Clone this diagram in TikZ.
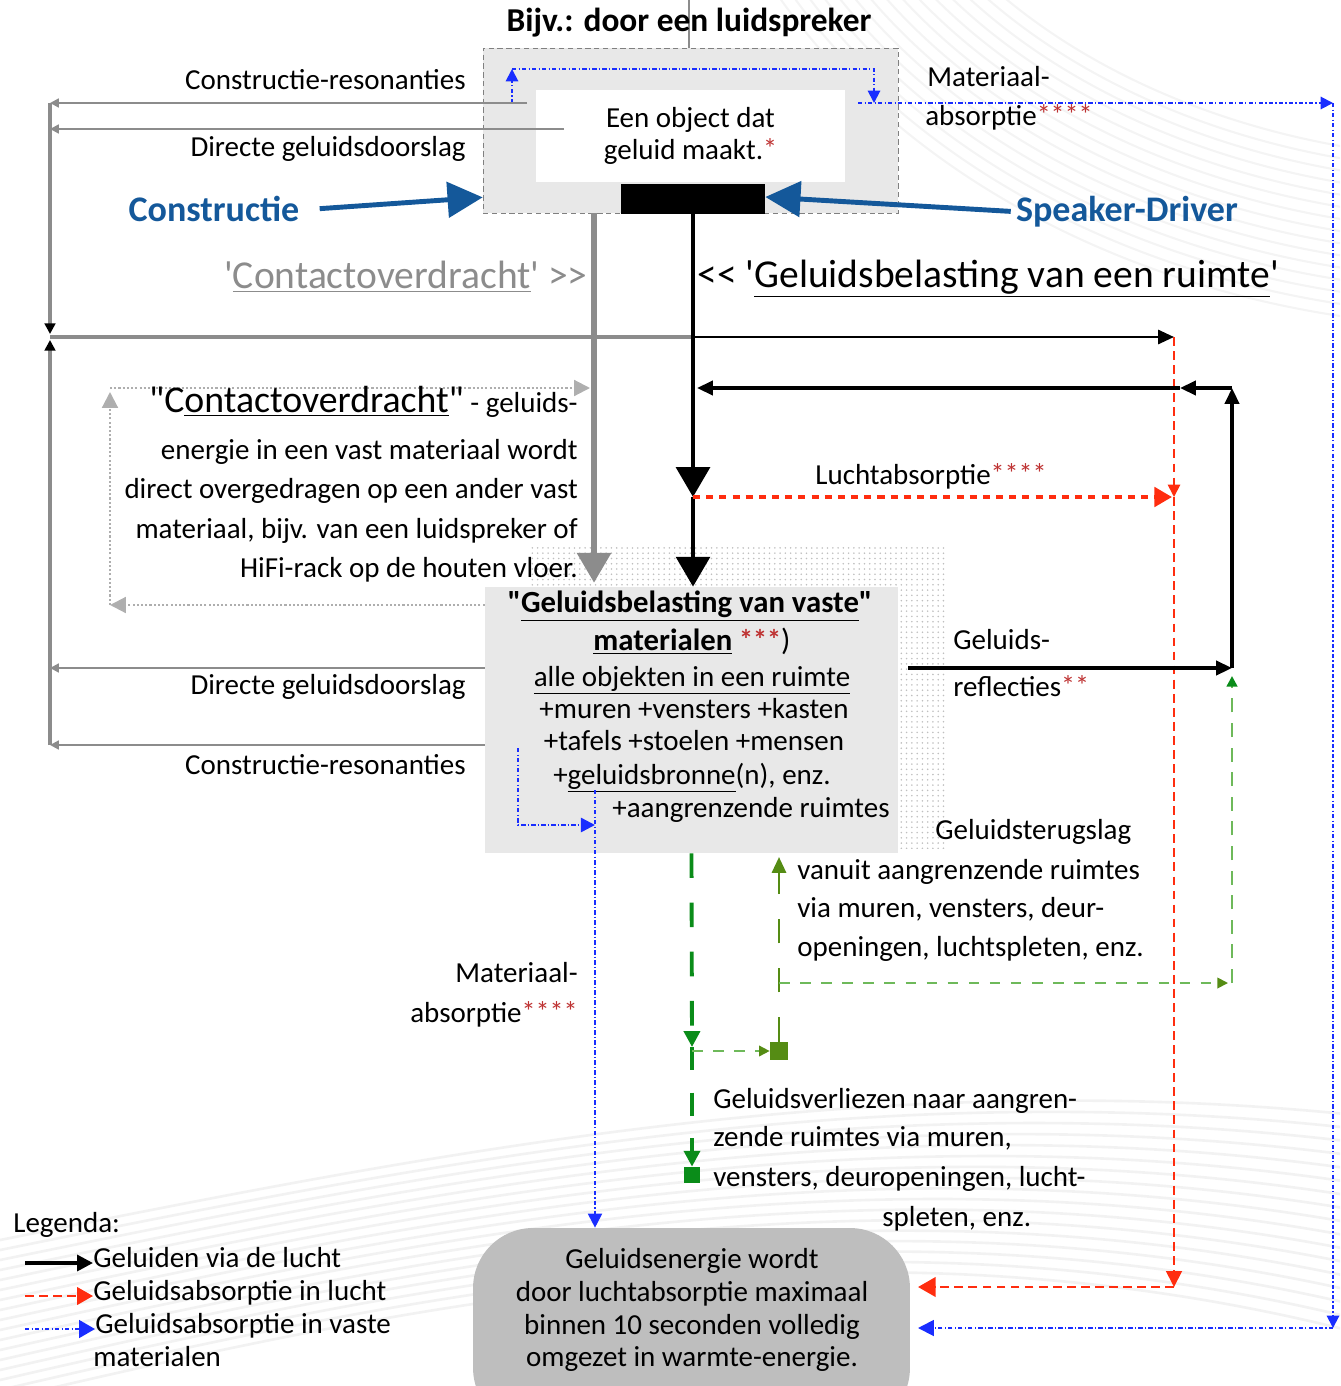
\documentclass[tikz,border=0pt]{standalone}
\usepackage{fontspec}
\setmainfont{Carlito}
\usepackage{xcolor}
\usetikzlibrary{positioning,calc,patterns,arrows.meta}

\definecolor{drvblue}{RGB}{20,88,154}
\definecolor{boxgray}{RGB}{232,232,232}
\definecolor{endgray}{RGB}{190,190,190}
\definecolor{linegray}{RGB}{140,140,140}
\definecolor{absred}{RGB}{255,45,15}
\definecolor{absblue}{RGB}{25,45,255}
\definecolor{lossgreen}{RGB}{10,140,25}
\definecolor{backgreen}{RGB}{85,140,20}
\definecolor{palegreen}{RGB}{110,185,90}
\definecolor{starred}{RGB}{190,50,50}

\newcommand{\stars}[1]{\textcolor{starred}{\raisebox{0.02em}{\fontsize{16}{16}\selectfont #1}}}
\newcommand{\sq}{\textquotesingle}
\newcommand{\dq}{\textquotedbl}

\tikzset{
  txt/.style={font=\fontsize{16.5}{20}\selectfont, inner sep=0pt, anchor=mid},
  bigtxt/.style={font=\fontsize{22.5}{26}\selectfont, inner sep=0pt, anchor=mid},
  bluetxt/.style={font=\fontsize{20.5}{24}\selectfont\bfseries, text=drvblue, inner sep=0pt, anchor=mid},
  airline/.style={black, line width=2pt},
  bodyline/.style={linegray, line width=1.3pt},
  redline/.style={absred, line width=1pt, dash pattern=on 5pt off 3pt},
  blueline/.style={absblue, line width=1.1pt, dash pattern=on 2.5pt off 1.2pt on 0.8pt off 1.2pt},
  cdline/.style={linegray!70, line width=1.2pt, dash pattern=on 1.2pt off 1.2pt},
  bigtip/.style={-{Triangle[length=17pt,width=19pt]}},
  smalltip/.style={-{Triangle[length=5pt,width=5pt]}},
  midtip/.style={-{Triangle[length=9pt,width=8pt]}},
}

\begin{document}
\begin{tikzpicture}[x=0.02cm,y=-0.02cm]
\path[use as bounding box] (0,0) rectangle (1340,1386);
\clip (0,0) rectangle (1340,1386);

% faint background waves
\foreach \k in {0,...,14}
  \draw[gray!9, line width=1.2pt] (1500,-300) ellipse [x radius=650+\k*12, y radius=460+\k*12];
\foreach \k in {0,...,16}
  \draw[gray!10, line width=1.5pt] (0,1240+\k*10) .. controls (450,1150+\k*9) and (900,1060+\k*9) .. (1400,1120+\k*14);

% speaker block
\node[draw=gray, densely dashed, line width=0.4pt, fill=boxgray, minimum width=8.3cm, minimum height=3.3cm, inner sep=0pt] (spk) at (690.5,130.5) {};
\node[fill=white, minimum width=6.18cm, minimum height=1.84cm, align=center, font=\fontsize{16.5}{18}\selectfont] (obj) at (690.5,136) {Een object dat\\geluid maakt.\stars{*}};
\node[fill=black, minimum width=2.88cm, minimum height=0.6cm, inner sep=0pt] (drv) at (693,199) {};
\coordinate (ttop) at (689,0);
\draw[linegray, line width=1.2pt] (ttop) -- (ttop |- spk.north);
\node[txt, font=\fontsize{19}{22}\selectfont\bfseries] (title) at (689,27) {Bijv.: door een luidspreker};

\node[bluetxt] (cons) at (214,217) {Constructie};
\node[bluetxt] (drvlbl) at (1127,217) {Speaker-Driver};
\draw[drvblue, line width=2.8pt, -{Triangle[length=20pt,width=20pt]}] ([xshift=0.4cm]cons.east) -- ([yshift=0.32cm]spk.south west);
\draw[drvblue, line width=2.8pt, -{Triangle[length=20pt,width=20pt]}] ([xshift=-0.1cm]drvlbl.west) -- ([yshift=0.04cm]drv.east);

% material absorption loop (blue)
\coordinate (bA) at (512,103);
\coordinate (bB) at (512,69);
\coordinate (bC) at (874,69);
\coordinate (bD) at (874,103);
\coordinate (bE) at (858,103);
\coordinate (bF) at (1333,103);
\coordinate (bG) at (1333,1328);
\coordinate (bH) at (918,1328);
\draw[blueline, -{Triangle[length=7pt,width=7pt]}] (bA) -- (bB);
\draw[blueline, -{Triangle[length=7pt,width=7pt]}] (bB) -- (bC) -- (bD);
\draw[blueline, -{Triangle[length=7pt,width=7pt]}] (bE) -- (bF);
\draw[blueline, -{Triangle[length=7pt,width=7pt]}] (bF) -- (bG);
\draw[blueline, -{Triangle[length=9pt,width=9pt]}] (bG) -- (bH);
\node[txt, anchor=mid west] (mat1a) at (927,82) {Materiaal-};
\node[txt, anchor=mid west] (mat1b) at (925,121) {absorptie\stars{****}};

% body-borne lines to the left rail
\coordinate (cr1) at (527,103);
\coordinate (dd1) at (564,129);
\coordinate (dd2) at (522,668);
\coordinate (cr2) at (520,745);
\coordinate (rTop) at (50,103);
\coordinate (rDir) at (50,129);
\coordinate (rMid) at (50,337);
\coordinate (rLow1) at (50,668);
\coordinate (rLow2) at (50,745);
\draw[bodyline, smalltip] (cr1) -- (rTop);
\draw[bodyline, smalltip] (dd1) -- (rDir);
\draw[bodyline, smalltip] (dd2) -- (rLow1);
\draw[bodyline, smalltip] (cr2) -- (rLow2);
\draw[bodyline, line width=1.8pt, -{Triangle[length=6pt,width=6pt,color=black]}] (rTop) -- ([yshift=0.06cm]rMid);
\draw[bodyline, line width=1.8pt, -{Triangle[length=6pt,width=6pt,color=black]}] (rLow2) -- ([yshift=-0.06cm]rMid);
\node[txt, anchor=mid east] (lcr1) at (466,85) {Constructie-resonanties};
\node[txt, anchor=mid east] (ldd1) at (466,152) {Directe geluidsdoorslag};
\node[txt, anchor=mid east] (ldd2) at (466,690) {Directe geluidsdoorslag};
\node[txt, anchor=mid east] (lcr2) at (466,770) {Constructie-resonanties};

% airborne line at the rail
\coordinate (jx) at (693,337);
\coordinate (redtop) at (1174,337);
\draw[bodyline, line width=1.8pt] (rMid) -- (jx);
\draw[airline, line width=1.4pt, midtip] (jx) -- (redtop);

% material box
\fill[pattern=dots, pattern color=gray!50] (530,545) rectangle (945,848);
\node[fill=boxgray, minimum width=8.26cm, minimum height=5.32cm, inner sep=0pt] (mat) at (691.5,720) {};
\node[txt, font=\fontsize{17.5}{20}\selectfont\bfseries] (m1) at (690,608) {\dq\underline{Geluidsbelasting van vaste}\dq};
\node[txt, font=\fontsize{17.5}{20}\selectfont\bfseries] (m2) at (692,646) {\underline{materialen} \stars{***}\mdseries)};
\node[txt] (m3) at (692,682) {\underline{alle objekten in een ruimte}};
\node[txt] (m4) at (694,714) {+muren +vensters +kasten};
\node[txt] (m5) at (694,746) {+tafels +stoelen +mensen};
\node[txt] (m6) at (692,780) {+\underline{geluidsbronne}(n), enz.};
\node[txt] (m7) at (751,813) {+aangrenzende ruimtes};

% contact transfer and airborne main arrows
\draw[linegray, line width=3pt, bigtip] ([xshift=-1.93cm]spk.south) -- ([xshift=-1.95cm,yshift=0.08cm]mat.north);
\coordinate (lx) at (693,497);
\draw[black, line width=2.8pt, bigtip] (drv.south) -- (lx);
\draw[black, line width=2.8pt, bigtip] (lx) -- (lx |- mat.north);
\node[bigtxt, text=linegray, anchor=mid east] (ctlbl) at (588,284) {\sq\underline{Contactoverdracht}\sq{} >{}>};
\node[bigtxt, anchor=mid west] (gblbl) at (697,283) {<{}< \sq\underline{Geluidsbelasting van een ruimte}\sq};

% contact transfer description
\coordinate (cdB) at (110,605);
\coordinate (cdC) at (110,388);
\coordinate (cdD) at (590,388);
\draw[cdline, -{Triangle[length=9pt,width=9pt,color=linegray!70]}] (mat.west |- cdB) -- (cdB);
\draw[cdline, -{Triangle[length=9pt,width=9pt,color=linegray!70]}] (cdB) -- ([yshift=-0.08cm]cdC);
\draw[cdline, -{Triangle[length=9pt,width=9pt,color=linegray!70]}] (cdC) -- (cdD);
\node[txt, anchor=mid east] (cd1) at (578,408) {{\fontsize{21.5}{26}\selectfont\dq C\underline{ontactoverdracht}\dq} - geluids-};
\node[txt, anchor=mid east] (cd2) at (578,455) {energie in een vast materiaal wordt};
\node[txt, anchor=mid east] (cd3) at (578,494) {direct overgedragen op een ander vast};
\node[txt, anchor=mid east] (cd4) at (578,534) {materiaal, bijv. van een luidspreker of};
\node[txt, anchor=mid east] (cd5) at (578,573) {HiFi-rack op de houten vloer.};

% air absorption (red)
\coordinate (redmid) at (1174,497);
\coordinate (redbot) at (1174,1287);
\coordinate (redend) at (918,1287);
\draw[redline, -{Triangle[length=7pt,width=7pt]}] (redtop) -- (redmid);
\draw[redline, -{Triangle[length=9pt,width=9pt]}] (redmid) -- (redbot);
\draw[redline, line width=1.6pt, -{Triangle[length=10pt,width=11pt]}] (redbot) -- (redend);
\draw[absred, line width=2.2pt, dash pattern=on 4pt off 3.5pt, -{Triangle[length=10pt,width=11pt]}] (lx) -- ([xshift=-0.04cm]redmid);
\node[txt, anchor=mid west] (lucht) at (815,480) {Luchtabsorptie\stars{****}};

% reflections
\coordinate (rfS) at (908,668);
\coordinate (rfR) at (1232,668);
\coordinate (rfT) at (1232,388);
\coordinate (rfM) at (1180,388);
\coordinate (rfL) at (697,388);
\draw[airline, midtip] (rfS) -- (rfR);
\draw[airline, midtip] (rfR) -- (rfT);
\draw[airline, midtip] (rfT) -- (rfM);
\draw[airline, midtip] (rfM) -- (rfL);
\node[txt, anchor=mid west] (refl1) at (953,645) {Geluids-};
\node[txt, anchor=mid west] (refl2) at (953,692) {reflecties\stars{**}};

% losses to and return from adjacent rooms (green)
\coordinate (gB) at (692,1047);
\node[fill=lossgreen, minimum size=0.32cm, inner sep=0pt] (gsq) at (692,1175) {};
\node[fill=backgreen, minimum size=0.36cm, inner sep=0pt] (osq) at (779,1051) {};
\coordinate (ogT) at (779,857);
\coordinate (ogM) at (779,983);
\coordinate (gR1) at (1228,983);
\coordinate (gR2) at (1232,983);
\coordinate (gR3) at (1232,676);
\draw[lossgreen, line width=2.2pt, dash pattern=on 14pt off 14pt, -{Triangle[length=9pt,width=9pt]}] (mat.south) -- (gB);
\draw[lossgreen, line width=2.2pt, dash pattern=on 13pt off 13pt, -{Triangle[length=9pt,width=9pt]}] (gB) -- (gsq.north);
\draw[palegreen, line width=1pt, dash pattern=on 6pt off 6pt, -{Triangle[length=6pt,width=6pt,color=backgreen]}] (gB |- osq) -- (osq.west);
\draw[backgreen, line width=1.5pt, dash pattern=on 14pt off 14pt, -{Triangle[length=9pt,width=8pt]}] (osq.north) -- (ogT);
\draw[palegreen, line width=1pt, dash pattern=on 6pt off 6pt, -{Triangle[length=6pt,width=6pt,color=backgreen]}] (ogM) -- (gR1);
\draw[palegreen, line width=1.4pt, dash pattern=on 8pt off 6pt, -{Triangle[length=6pt,width=6pt,color=lossgreen]}] (gR2) -- (gR3);
\node[txt, anchor=mid west] (terug0) at (935,835) {Geluidsterugslag};
\node[txt, anchor=mid west] (terug1) at (797,875) {vanuit aangrenzende ruimtes};
\node[txt, anchor=mid west] (terug2) at (797,913) {via muren, vensters, deur-};
\node[txt, anchor=mid west] (terug3) at (797,952) {openingen, luchtspleten, enz.};
\node[txt, anchor=mid west] (verl1) at (713,1104) {Geluidsverliezen naar aangren-};
\node[txt, anchor=mid west] (verl2) at (713,1142) {zende ruimtes via muren,};
\node[txt, anchor=mid west] (verl3) at (713,1182) {vensters, deuropeningen, lucht-};
\node[txt, anchor=mid west] (verl4) at (882,1222) {spleten, enz.};

% blue from the material box
\coordinate (mbA) at (518,748);
\coordinate (mbC) at (595,825);
\coordinate (mbD) at (595,790);
\node[fill=endgray, rounded corners=1.2cm, minimum width=8.74cm, minimum height=4cm] (endbox) at (691.5,1328) {};
\draw[blueline, line width=1.4pt, -{Triangle[length=8pt,width=8pt]}] (mbA) |- (mbC);
\draw[blueline, -{Triangle[length=8pt,width=8pt]}] (mbD) -- (mbD |- endbox.north);
\node[txt, anchor=mid east] (mat2a) at (578,978) {Materiaal-};
\node[txt, anchor=mid east] (mat2b) at (578,1018) {absorptie\stars{****}};

\node[txt, anchor=center, align=center, font=\fontsize{16.5}{18.7}\selectfont] (endtxt) at (692,1310) {Geluidsenergie wordt\\door luchtabsorptie maximaal\\binnen 10 seconden volledig\\omgezet in warmte-energie.};

% legend
\node[txt, anchor=mid west] (legtitle) at (13,1228) {Legenda:};
\node[txt, anchor=mid west] (leg1) at (93,1263) {Geluiden via de lucht};
\node[txt, anchor=mid west] (leg2) at (93,1296) {Geluidsabsorptie in lucht};
\node[txt, anchor=mid west] (leg3) at (95,1329) {Geluidsabsorptie in vaste};
\node[txt, anchor=mid west] (leg4) at (93,1362) {materialen};
\coordinate (lg1) at (25,1263);
\coordinate (lg2) at (25,1296);
\coordinate (lg3) at (25,1329);
\draw[airline, -{Triangle[length=9pt,width=9pt]}] (lg1) -- (lg1 -| leg1.west);
\draw[redline, -{Triangle[length=9pt,width=10pt]}] (lg2) -- (lg2 -| leg2.west);
\draw[blueline, line width=1.4pt, -{Triangle[length=9pt,width=10pt]}] (lg3) -- (lg3 -| leg3.west);
\end{tikzpicture}
\end{document}
